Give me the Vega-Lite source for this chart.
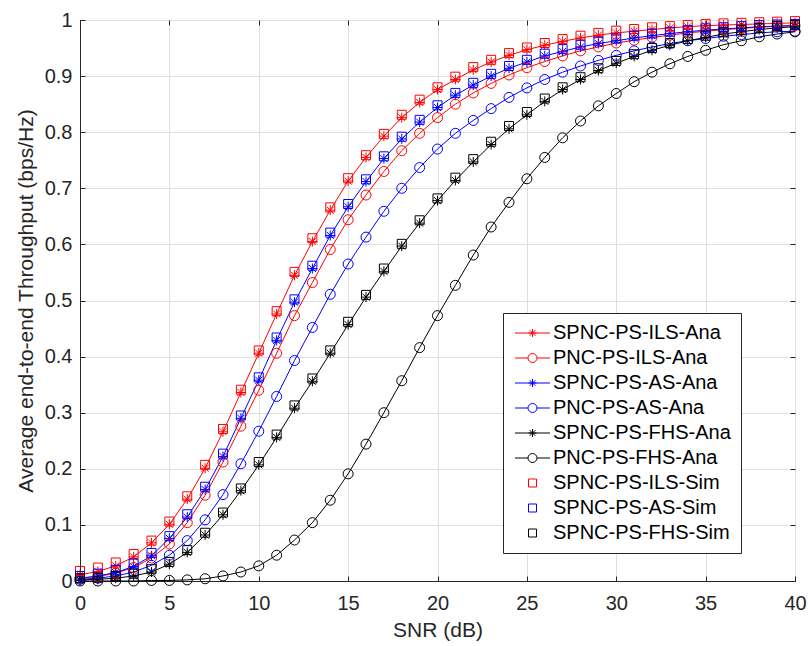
{
  "$schema": "https://vega.github.io/schema/vega-lite/v6.json",
  "width": 715,
  "height": 561,
  "autosize": {"type": "none"},
  "padding": {"left": 80, "top": 20, "right": 13, "bottom": 65},
  "background": "white",
  "config": {
    "view": {"stroke": "#262626", "strokeWidth": 1},
    "font": "Liberation Sans",
    "axis": {
      "labelFont": "Liberation Sans",
      "titleFont": "Liberation Sans",
      "labelColor": "#262626",
      "titleColor": "#262626",
      "labelFontSize": 20,
      "titleFontSize": 21,
      "titleFontWeight": "normal",
      "domainColor": "#262626",
      "tickColor": "#262626",
      "gridColor": "#dfdfdf",
      "gridWidth": 1,
      "tickSize": -5
    },
    "legend": {
      "orient": "none",
      "legendX": 423,
      "legendY": 293,
      "strokeColor": "#262626",
      "fillColor": "white",
      "padding": 10,
      "labelFont": "Liberation Sans",
      "labelFontSize": 20,
      "labelColor": "#000000",
      "labelOffset": 20,
      "rowPadding": 5,
      "symbolSize": 100,
      "symbolStrokeWidth": 1,
      "labelLimit": 0
    }
  },
  "data": {
    "values": [
      {"snr":0,"SPNC-PS-ILS-Ana":0.011,"PNC-PS-ILS-Ana":0.005,"SPNC-PS-AS-Ana":0.005,"PNC-PS-AS-Ana":0.003,"SPNC-PS-FHS-Ana":0.002,"PNC-PS-FHS-Ana":0.0,"SPNC-PS-ILS-Sim":0.018,"SPNC-PS-AS-Sim":0.009,"SPNC-PS-FHS-Sim":0.005},
      {"snr":1,"SPNC-PS-ILS-Ana":0.017,"PNC-PS-ILS-Ana":0.008,"SPNC-PS-AS-Ana":0.009,"PNC-PS-AS-Ana":0.005,"SPNC-PS-FHS-Ana":0.003,"PNC-PS-FHS-Ana":0.0,"SPNC-PS-ILS-Sim":0.024,"SPNC-PS-AS-Sim":0.013,"SPNC-PS-FHS-Sim":0.006},
      {"snr":2,"SPNC-PS-ILS-Ana":0.027,"PNC-PS-ILS-Ana":0.014,"SPNC-PS-AS-Ana":0.015,"PNC-PS-AS-Ana":0.009,"SPNC-PS-FHS-Ana":0.005,"PNC-PS-FHS-Ana":0.0,"SPNC-PS-ILS-Sim":0.033,"SPNC-PS-AS-Sim":0.020,"SPNC-PS-FHS-Sim":0.009},
      {"snr":3,"SPNC-PS-ILS-Ana":0.043,"PNC-PS-ILS-Ana":0.024,"SPNC-PS-AS-Ana":0.026,"PNC-PS-AS-Ana":0.016,"SPNC-PS-FHS-Ana":0.009,"PNC-PS-FHS-Ana":0.0,"SPNC-PS-ILS-Sim":0.048,"SPNC-PS-AS-Sim":0.031,"SPNC-PS-FHS-Sim":0.013},
      {"snr":4,"SPNC-PS-ILS-Ana":0.068,"PNC-PS-ILS-Ana":0.041,"SPNC-PS-AS-Ana":0.045,"PNC-PS-AS-Ana":0.028,"SPNC-PS-FHS-Ana":0.016,"PNC-PS-FHS-Ana":0.001,"SPNC-PS-ILS-Sim":0.072,"SPNC-PS-AS-Sim":0.050,"SPNC-PS-FHS-Sim":0.021},
      {"snr":5,"SPNC-PS-ILS-Ana":0.101,"PNC-PS-ILS-Ana":0.066,"SPNC-PS-AS-Ana":0.076,"PNC-PS-AS-Ana":0.046,"SPNC-PS-FHS-Ana":0.030,"PNC-PS-FHS-Ana":0.001,"SPNC-PS-ILS-Sim":0.106,"SPNC-PS-AS-Sim":0.080,"SPNC-PS-FHS-Sim":0.034},
      {"snr":6,"SPNC-PS-ILS-Ana":0.146,"PNC-PS-ILS-Ana":0.104,"SPNC-PS-AS-Ana":0.114,"PNC-PS-AS-Ana":0.072,"SPNC-PS-FHS-Ana":0.051,"PNC-PS-FHS-Ana":0.002,"SPNC-PS-ILS-Sim":0.151,"SPNC-PS-AS-Sim":0.119,"SPNC-PS-FHS-Sim":0.055},
      {"snr":7,"SPNC-PS-ILS-Ana":0.201,"PNC-PS-ILS-Ana":0.153,"SPNC-PS-AS-Ana":0.163,"PNC-PS-AS-Ana":0.109,"SPNC-PS-FHS-Ana":0.082,"PNC-PS-FHS-Ana":0.004,"SPNC-PS-ILS-Sim":0.207,"SPNC-PS-AS-Sim":0.168,"SPNC-PS-FHS-Sim":0.086},
      {"snr":8,"SPNC-PS-ILS-Ana":0.266,"PNC-PS-ILS-Ana":0.212,"SPNC-PS-AS-Ana":0.222,"PNC-PS-AS-Ana":0.154,"SPNC-PS-FHS-Ana":0.118,"PNC-PS-FHS-Ana":0.009,"SPNC-PS-ILS-Sim":0.271,"SPNC-PS-AS-Sim":0.227,"SPNC-PS-FHS-Sim":0.122},
      {"snr":9,"SPNC-PS-ILS-Ana":0.336,"PNC-PS-ILS-Ana":0.276,"SPNC-PS-AS-Ana":0.290,"PNC-PS-AS-Ana":0.209,"SPNC-PS-FHS-Ana":0.161,"PNC-PS-FHS-Ana":0.016,"SPNC-PS-ILS-Sim":0.341,"SPNC-PS-AS-Sim":0.295,"SPNC-PS-FHS-Sim":0.165},
      {"snr":10,"SPNC-PS-ILS-Ana":0.406,"PNC-PS-ILS-Ana":0.340,"SPNC-PS-AS-Ana":0.358,"PNC-PS-AS-Ana":0.267,"SPNC-PS-FHS-Ana":0.207,"PNC-PS-FHS-Ana":0.027,"SPNC-PS-ILS-Sim":0.411,"SPNC-PS-AS-Sim":0.363,"SPNC-PS-FHS-Sim":0.212},
      {"snr":11,"SPNC-PS-ILS-Ana":0.476,"PNC-PS-ILS-Ana":0.406,"SPNC-PS-AS-Ana":0.429,"PNC-PS-AS-Ana":0.329,"SPNC-PS-FHS-Ana":0.256,"PNC-PS-FHS-Ana":0.046,"SPNC-PS-ILS-Sim":0.481,"SPNC-PS-AS-Sim":0.434,"SPNC-PS-FHS-Sim":0.261},
      {"snr":12,"SPNC-PS-ILS-Ana":0.545,"PNC-PS-ILS-Ana":0.473,"SPNC-PS-AS-Ana":0.497,"PNC-PS-AS-Ana":0.393,"SPNC-PS-FHS-Ana":0.308,"PNC-PS-FHS-Ana":0.073,"SPNC-PS-ILS-Sim":0.551,"SPNC-PS-AS-Sim":0.502,"SPNC-PS-FHS-Sim":0.313},
      {"snr":13,"SPNC-PS-ILS-Ana":0.605,"PNC-PS-ILS-Ana":0.532,"SPNC-PS-AS-Ana":0.557,"PNC-PS-AS-Ana":0.452,"SPNC-PS-FHS-Ana":0.356,"PNC-PS-FHS-Ana":0.104,"SPNC-PS-ILS-Sim":0.611,"SPNC-PS-AS-Sim":0.562,"SPNC-PS-FHS-Sim":0.361},
      {"snr":14,"SPNC-PS-ILS-Ana":0.661,"PNC-PS-ILS-Ana":0.591,"SPNC-PS-AS-Ana":0.616,"PNC-PS-AS-Ana":0.511,"SPNC-PS-FHS-Ana":0.406,"PNC-PS-FHS-Ana":0.144,"SPNC-PS-ILS-Sim":0.666,"SPNC-PS-AS-Sim":0.621,"SPNC-PS-FHS-Sim":0.411},
      {"snr":15,"SPNC-PS-ILS-Ana":0.713,"PNC-PS-ILS-Ana":0.644,"SPNC-PS-AS-Ana":0.667,"PNC-PS-AS-Ana":0.565,"SPNC-PS-FHS-Ana":0.457,"PNC-PS-FHS-Ana":0.191,"SPNC-PS-ILS-Sim":0.718,"SPNC-PS-AS-Sim":0.672,"SPNC-PS-FHS-Sim":0.462},
      {"snr":16,"SPNC-PS-ILS-Ana":0.755,"PNC-PS-ILS-Ana":0.688,"SPNC-PS-AS-Ana":0.712,"PNC-PS-AS-Ana":0.613,"SPNC-PS-FHS-Ana":0.506,"PNC-PS-FHS-Ana":0.244,"SPNC-PS-ILS-Sim":0.759,"SPNC-PS-AS-Sim":0.716,"SPNC-PS-FHS-Sim":0.510},
      {"snr":17,"SPNC-PS-ILS-Ana":0.793,"PNC-PS-ILS-Ana":0.730,"SPNC-PS-AS-Ana":0.753,"PNC-PS-AS-Ana":0.659,"SPNC-PS-FHS-Ana":0.552,"PNC-PS-FHS-Ana":0.300,"SPNC-PS-ILS-Sim":0.797,"SPNC-PS-AS-Sim":0.757,"SPNC-PS-FHS-Sim":0.557},
      {"snr":18,"SPNC-PS-ILS-Ana":0.826,"PNC-PS-ILS-Ana":0.767,"SPNC-PS-AS-Ana":0.788,"PNC-PS-AS-Ana":0.700,"SPNC-PS-FHS-Ana":0.597,"PNC-PS-FHS-Ana":0.357,"SPNC-PS-ILS-Sim":0.831,"SPNC-PS-AS-Sim":0.792,"SPNC-PS-FHS-Sim":0.601},
      {"snr":19,"SPNC-PS-ILS-Ana":0.853,"PNC-PS-ILS-Ana":0.798,"SPNC-PS-AS-Ana":0.818,"PNC-PS-AS-Ana":0.737,"SPNC-PS-FHS-Ana":0.638,"PNC-PS-FHS-Ana":0.416,"SPNC-PS-ILS-Sim":0.858,"SPNC-PS-AS-Sim":0.822,"SPNC-PS-FHS-Sim":0.643},
      {"snr":20,"SPNC-PS-ILS-Ana":0.876,"PNC-PS-ILS-Ana":0.826,"SPNC-PS-AS-Ana":0.844,"PNC-PS-AS-Ana":0.770,"SPNC-PS-FHS-Ana":0.678,"PNC-PS-FHS-Ana":0.473,"SPNC-PS-ILS-Sim":0.880,"SPNC-PS-AS-Sim":0.848,"SPNC-PS-FHS-Sim":0.682},
      {"snr":21,"SPNC-PS-ILS-Ana":0.894,"PNC-PS-ILS-Ana":0.850,"SPNC-PS-AS-Ana":0.866,"PNC-PS-AS-Ana":0.798,"SPNC-PS-FHS-Ana":0.714,"PNC-PS-FHS-Ana":0.527,"SPNC-PS-ILS-Sim":0.899,"SPNC-PS-AS-Sim":0.870,"SPNC-PS-FHS-Sim":0.719},
      {"snr":22,"SPNC-PS-ILS-Ana":0.911,"PNC-PS-ILS-Ana":0.870,"SPNC-PS-AS-Ana":0.884,"PNC-PS-AS-Ana":0.821,"SPNC-PS-FHS-Ana":0.747,"PNC-PS-FHS-Ana":0.581,"SPNC-PS-ILS-Sim":0.916,"SPNC-PS-AS-Sim":0.888,"SPNC-PS-FHS-Sim":0.752},
      {"snr":23,"SPNC-PS-ILS-Ana":0.925,"PNC-PS-ILS-Ana":0.887,"SPNC-PS-AS-Ana":0.900,"PNC-PS-AS-Ana":0.842,"SPNC-PS-FHS-Ana":0.778,"PNC-PS-FHS-Ana":0.631,"SPNC-PS-ILS-Sim":0.929,"SPNC-PS-AS-Sim":0.904,"SPNC-PS-FHS-Sim":0.783},
      {"snr":24,"SPNC-PS-ILS-Ana":0.937,"PNC-PS-ILS-Ana":0.902,"SPNC-PS-AS-Ana":0.914,"PNC-PS-AS-Ana":0.862,"SPNC-PS-FHS-Ana":0.806,"PNC-PS-FHS-Ana":0.675,"SPNC-PS-ILS-Sim":0.941,"SPNC-PS-AS-Sim":0.918,"SPNC-PS-FHS-Sim":0.811},
      {"snr":25,"SPNC-PS-ILS-Ana":0.947,"PNC-PS-ILS-Ana":0.915,"SPNC-PS-AS-Ana":0.925,"PNC-PS-AS-Ana":0.879,"SPNC-PS-FHS-Ana":0.831,"PNC-PS-FHS-Ana":0.717,"SPNC-PS-ILS-Sim":0.951,"SPNC-PS-AS-Sim":0.929,"SPNC-PS-FHS-Sim":0.836},
      {"snr":26,"SPNC-PS-ILS-Ana":0.955,"PNC-PS-ILS-Ana":0.926,"SPNC-PS-AS-Ana":0.936,"PNC-PS-AS-Ana":0.894,"SPNC-PS-FHS-Ana":0.855,"PNC-PS-FHS-Ana":0.755,"SPNC-PS-ILS-Sim":0.959,"SPNC-PS-AS-Sim":0.940,"SPNC-PS-FHS-Sim":0.860},
      {"snr":27,"SPNC-PS-ILS-Ana":0.962,"PNC-PS-ILS-Ana":0.936,"SPNC-PS-AS-Ana":0.944,"PNC-PS-AS-Ana":0.907,"SPNC-PS-FHS-Ana":0.876,"PNC-PS-FHS-Ana":0.790,"SPNC-PS-ILS-Sim":0.966,"SPNC-PS-AS-Sim":0.948,"SPNC-PS-FHS-Sim":0.880},
      {"snr":28,"SPNC-PS-ILS-Ana":0.968,"PNC-PS-ILS-Ana":0.945,"SPNC-PS-AS-Ana":0.952,"PNC-PS-AS-Ana":0.918,"SPNC-PS-FHS-Ana":0.894,"PNC-PS-FHS-Ana":0.820,"SPNC-PS-ILS-Sim":0.972,"SPNC-PS-AS-Sim":0.956,"SPNC-PS-FHS-Sim":0.898},
      {"snr":29,"SPNC-PS-ILS-Ana":0.973,"PNC-PS-ILS-Ana":0.952,"SPNC-PS-AS-Ana":0.958,"PNC-PS-AS-Ana":0.928,"SPNC-PS-FHS-Ana":0.910,"PNC-PS-FHS-Ana":0.847,"SPNC-PS-ILS-Sim":0.977,"SPNC-PS-AS-Sim":0.962,"SPNC-PS-FHS-Sim":0.914},
      {"snr":30,"SPNC-PS-ILS-Ana":0.977,"PNC-PS-ILS-Ana":0.959,"SPNC-PS-AS-Ana":0.963,"PNC-PS-AS-Ana":0.937,"SPNC-PS-FHS-Ana":0.923,"PNC-PS-FHS-Ana":0.869,"SPNC-PS-ILS-Sim":0.981,"SPNC-PS-AS-Sim":0.967,"SPNC-PS-FHS-Sim":0.927},
      {"snr":31,"SPNC-PS-ILS-Ana":0.980,"PNC-PS-ILS-Ana":0.964,"SPNC-PS-AS-Ana":0.968,"PNC-PS-AS-Ana":0.945,"SPNC-PS-FHS-Ana":0.935,"PNC-PS-FHS-Ana":0.890,"SPNC-PS-ILS-Sim":0.984,"SPNC-PS-AS-Sim":0.972,"SPNC-PS-FHS-Sim":0.939},
      {"snr":32,"SPNC-PS-ILS-Ana":0.983,"PNC-PS-ILS-Ana":0.969,"SPNC-PS-AS-Ana":0.972,"PNC-PS-AS-Ana":0.952,"SPNC-PS-FHS-Ana":0.946,"PNC-PS-FHS-Ana":0.907,"SPNC-PS-ILS-Sim":0.987,"SPNC-PS-AS-Sim":0.976,"SPNC-PS-FHS-Sim":0.950},
      {"snr":33,"SPNC-PS-ILS-Ana":0.986,"PNC-PS-ILS-Ana":0.973,"SPNC-PS-AS-Ana":0.976,"PNC-PS-AS-Ana":0.958,"SPNC-PS-FHS-Ana":0.955,"PNC-PS-FHS-Ana":0.922,"SPNC-PS-ILS-Sim":0.989,"SPNC-PS-AS-Sim":0.979,"SPNC-PS-FHS-Sim":0.959},
      {"snr":34,"SPNC-PS-ILS-Ana":0.988,"PNC-PS-ILS-Ana":0.977,"SPNC-PS-AS-Ana":0.979,"PNC-PS-AS-Ana":0.963,"SPNC-PS-FHS-Ana":0.963,"PNC-PS-FHS-Ana":0.935,"SPNC-PS-ILS-Sim":0.991,"SPNC-PS-AS-Sim":0.982,"SPNC-PS-FHS-Sim":0.966},
      {"snr":35,"SPNC-PS-ILS-Ana":0.990,"PNC-PS-ILS-Ana":0.980,"SPNC-PS-AS-Ana":0.982,"PNC-PS-AS-Ana":0.967,"SPNC-PS-FHS-Ana":0.969,"PNC-PS-FHS-Ana":0.946,"SPNC-PS-ILS-Sim":0.993,"SPNC-PS-AS-Sim":0.985,"SPNC-PS-FHS-Sim":0.972},
      {"snr":36,"SPNC-PS-ILS-Ana":0.991,"PNC-PS-ILS-Ana":0.983,"SPNC-PS-AS-Ana":0.984,"PNC-PS-AS-Ana":0.971,"SPNC-PS-FHS-Ana":0.975,"PNC-PS-FHS-Ana":0.956,"SPNC-PS-ILS-Sim":0.994,"SPNC-PS-AS-Sim":0.987,"SPNC-PS-FHS-Sim":0.978},
      {"snr":37,"SPNC-PS-ILS-Ana":0.992,"PNC-PS-ILS-Ana":0.985,"SPNC-PS-AS-Ana":0.986,"PNC-PS-AS-Ana":0.974,"SPNC-PS-FHS-Ana":0.979,"PNC-PS-FHS-Ana":0.963,"SPNC-PS-ILS-Sim":0.995,"SPNC-PS-AS-Sim":0.989,"SPNC-PS-FHS-Sim":0.982},
      {"snr":38,"SPNC-PS-ILS-Ana":0.993,"PNC-PS-ILS-Ana":0.987,"SPNC-PS-AS-Ana":0.988,"PNC-PS-AS-Ana":0.977,"SPNC-PS-FHS-Ana":0.983,"PNC-PS-FHS-Ana":0.970,"SPNC-PS-ILS-Sim":0.996,"SPNC-PS-AS-Sim":0.991,"SPNC-PS-FHS-Sim":0.986},
      {"snr":39,"SPNC-PS-ILS-Ana":0.994,"PNC-PS-ILS-Ana":0.989,"SPNC-PS-AS-Ana":0.989,"PNC-PS-AS-Ana":0.979,"SPNC-PS-FHS-Ana":0.986,"PNC-PS-FHS-Ana":0.975,"SPNC-PS-ILS-Sim":0.997,"SPNC-PS-AS-Sim":0.992,"SPNC-PS-FHS-Sim":0.989},
      {"snr":40,"SPNC-PS-ILS-Ana":0.995,"PNC-PS-ILS-Ana":0.990,"SPNC-PS-AS-Ana":0.990,"PNC-PS-AS-Ana":0.980,"SPNC-PS-FHS-Ana":0.988,"PNC-PS-FHS-Ana":0.979,"SPNC-PS-ILS-Sim":0.998,"SPNC-PS-AS-Sim":0.993,"SPNC-PS-FHS-Sim":0.991}
    ]
  },
  "transform": [
    {"fold": ["SPNC-PS-ILS-Ana","PNC-PS-ILS-Ana","SPNC-PS-AS-Ana","PNC-PS-AS-Ana","SPNC-PS-FHS-Ana","PNC-PS-FHS-Ana","SPNC-PS-ILS-Sim","SPNC-PS-AS-Sim","SPNC-PS-FHS-Sim"], "as": ["series", "thr"]}
  ],
  "layer": [
    {
      "transform": [{"filter": "indexof(datum.series, 'Ana') >= 0"}],
      "mark": {"type": "line", "strokeWidth": 1},
      "encoding": {
        "x": {"field": "snr", "type": "quantitative", "scale": {"domain": [0, 40], "nice": false, "zero": false},
              "axis": {"title": "SNR (dB)", "values": [0,5,10,15,20,25,30,35,40], "grid": true, "labelPadding": 17, "titlePadding": 6, "labelFlush": false}},
        "y": {"field": "thr", "type": "quantitative", "scale": {"domain": [0, 1], "nice": false},
              "axis": {"title": "Average end-to-end Throughput (bps/Hz)", "values": [0,0.1,0.2,0.3,0.4,0.5,0.6,0.7,0.8,0.9,1], "format": ".1~f", "grid": true, "labelPadding": 13, "titlePadding": 8, "labelFlush": false}},
        "color": {"field": "series", "type": "nominal", "title": null,
                  "scale": {"domain": ["SPNC-PS-ILS-Ana","PNC-PS-ILS-Ana","SPNC-PS-AS-Ana","PNC-PS-AS-Ana","SPNC-PS-FHS-Ana","PNC-PS-FHS-Ana","SPNC-PS-ILS-Sim","SPNC-PS-AS-Sim","SPNC-PS-FHS-Sim"],
                            "range": ["#ff0000","#ff0000","#0000ff","#0000ff","#000000","#000000","#ff0000","#0000ff","#000000"]}}
      }
    },
    {
      "transform": [{"filter": "indexof(datum.series, 'SPNC') == 0 && indexof(datum.series, 'Ana') >= 0"}],
      "mark": {"type": "point", "filled": false, "strokeWidth": 1, "size": 100, "opacity": 1, "shape": "M-1,0L1,0M0,-1L0,1M-0.7,-0.7L0.7,0.7M-0.7,0.7L0.7,-0.7"},
      "encoding": {
        "x": {"field": "snr", "type": "quantitative", "axis": null},
        "y": {"field": "thr", "type": "quantitative", "axis": null},
        "color": {"field": "series", "type": "nominal", "title": null}
      }
    },
    {
      "transform": [{"filter": "indexof(datum.series, 'PNC') == 0"}],
      "mark": {"type": "point", "filled": false, "strokeWidth": 1, "size": 100, "opacity": 1, "shape": "circle"},
      "encoding": {
        "x": {"field": "snr", "type": "quantitative", "axis": null},
        "y": {"field": "thr", "type": "quantitative", "axis": null},
        "color": {"field": "series", "type": "nominal", "title": null}
      }
    },
    {
      "transform": [{"filter": "indexof(datum.series, 'Sim') >= 0"}],
      "mark": {"type": "point", "filled": false, "strokeWidth": 1, "size": 81, "opacity": 1, "shape": "square"},
      "encoding": {
        "x": {"field": "snr", "type": "quantitative",
              "axis": {"orient": "top", "labels": false, "title": null, "grid": false, "domain": false, "values": [0,5,10,15,20,25,30,35,40]}},
        "y": {"field": "thr", "type": "quantitative",
              "axis": {"orient": "right", "labels": false, "title": null, "grid": false, "domain": false, "values": [0,0.1,0.2,0.3,0.4,0.5,0.6,0.7,0.8,0.9,1]}},
        "color": {"field": "series", "type": "nominal", "title": null}
      }
    },
    {
      "transform": [{"filter": "datum.snr < 0"}],
      "mark": {"type": "point", "filled": false, "strokeWidth": 1, "size": 100, "opacity": 1},
      "encoding": {
        "x": {"field": "snr", "type": "quantitative", "axis": null},
        "y": {"field": "thr", "type": "quantitative", "axis": null},
        "color": {"field": "series", "type": "nominal", "title": null},
        "shape": {"field": "series", "type": "nominal", "title": null,
                  "scale": {"domain": ["SPNC-PS-ILS-Ana","PNC-PS-ILS-Ana","SPNC-PS-AS-Ana","PNC-PS-AS-Ana","SPNC-PS-FHS-Ana","PNC-PS-FHS-Ana","SPNC-PS-ILS-Sim","SPNC-PS-AS-Sim","SPNC-PS-FHS-Sim"],
                            "range": [
                              "M-1.6,0L5.4,0M1.1,0L2.7,0M1.9,-0.8L1.9,0.8M1.33,-0.57L2.47,0.57M1.33,0.57L2.47,-0.57",
                              "M-1.6,0L1.0,0M2.8,0L5.4,0M1.0,0A0.9,0.9,0,1,1,2.8,0A0.9,0.9,0,1,1,1.0,0",
                              "M-1.6,0L5.4,0M1.1,0L2.7,0M1.9,-0.8L1.9,0.8M1.33,-0.57L2.47,0.57M1.33,0.57L2.47,-0.57",
                              "M-1.6,0L1.0,0M2.8,0L5.4,0M1.0,0A0.9,0.9,0,1,1,2.8,0A0.9,0.9,0,1,1,1.0,0",
                              "M-1.6,0L5.4,0M1.1,0L2.7,0M1.9,-0.8L1.9,0.8M1.33,-0.57L2.47,0.57M1.33,0.57L2.47,-0.57",
                              "M-1.6,0L1.0,0M2.8,0L5.4,0M1.0,0A0.9,0.9,0,1,1,2.8,0A0.9,0.9,0,1,1,1.0,0",
                              "M1.1,-0.8L2.7,-0.8L2.7,0.8L1.1,0.8Z",
                              "M1.1,-0.8L2.7,-0.8L2.7,0.8L1.1,0.8Z",
                              "M1.1,-0.8L2.7,-0.8L2.7,0.8L1.1,0.8Z"
                            ]}}
      }
    }
  ],
  "resolve": {"axis": {"x": "independent", "y": "independent"}}
}
